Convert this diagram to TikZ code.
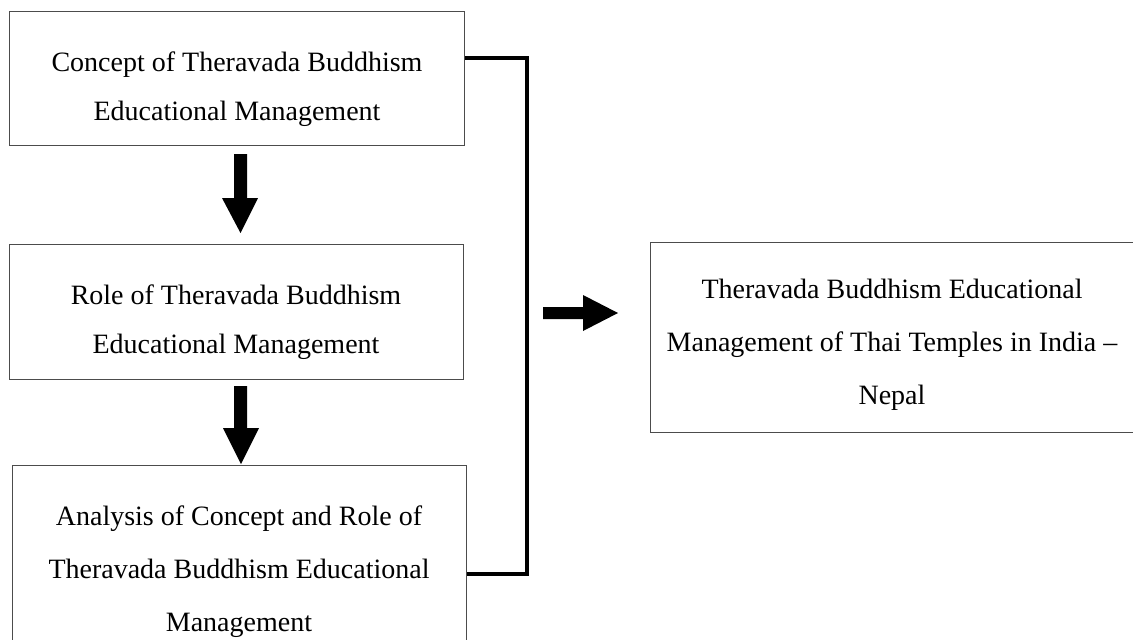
\documentclass[tikz,border=0pt]{standalone}
\usepackage{fontspec}
\setmainfont{Liberation Serif}
\usetikzlibrary{calc}
\begin{document}
\begin{tikzpicture}[x=1pt,y=-1pt,
  box/.style={draw=black!70,line width=1pt,inner sep=0pt,anchor=north west},
  txt/.style={anchor=base,inner sep=0pt,font=\fontsize{28}{34}\selectfont},
  bracket/.style={line width=4pt,line join=miter},
  blockarrow/.style={fill=black,draw=none}]
\useasboundingbox (0,0) rectangle (1133,640);
\clip (0,0) rectangle (1133,640);
% boxes
\node[box,minimum width=455pt,minimum height=134pt] (b1) at (9,11) {};
\node[box,minimum width=454pt,minimum height=135pt] (b2) at (9,244) {};
\node[box,minimum width=454pt,minimum height=185pt] (b3) at (12,465) {};
\node[box,minimum width=490pt,minimum height=190pt] (b4) at (650,242) {};
% texts
\node[txt] (t1a) at (237,71) {Concept of Theravada Buddhism};
\node[txt] (t1b) at (237,120) {Educational Management};
\node[txt] (t2a) at (236,304) {Role of Theravada Buddhism};
\node[txt] (t2b) at (236,353) {Educational Management};
\node[txt] (t3a) at (239,525) {Analysis of Concept and Role of};
\node[txt] (t3b) at (239,578) {Theravada Buddhism Educational};
\node[txt] (t3c) at (239,631) {Management};
\node[txt] (t4a) at (892,298) {Theravada Buddhism Educational};
\node[txt] (t4b) at (892,351) {Management of Thai Temples in India –};
\node[txt] (t4c) at (892,404) {Nepal};
% bracket
\coordinate (k1) at ($(b1.north east)+(0,47)$);
\coordinate (k3) at (b3.north east |- 0,574);
\draw[bracket] (k1) -- (527,58) -- (527,574) -- (k3);
% block arrows
\fill[blockarrow] (234,154) -- (247,154) -- (247,198) -- (258,198) -- (240.5,233) -- (222,198) -- (234,198) -- cycle;
\fill[blockarrow] (234,386) -- (247,386) -- (247,428) -- (259,428) -- (241,464) -- (223,428) -- (234,428) -- cycle;
\fill[blockarrow] (543,307) -- (583,307) -- (583,295) -- (618,313) -- (583,331) -- (583,319) -- (543,319) -- cycle;
\end{tikzpicture}
\end{document}
